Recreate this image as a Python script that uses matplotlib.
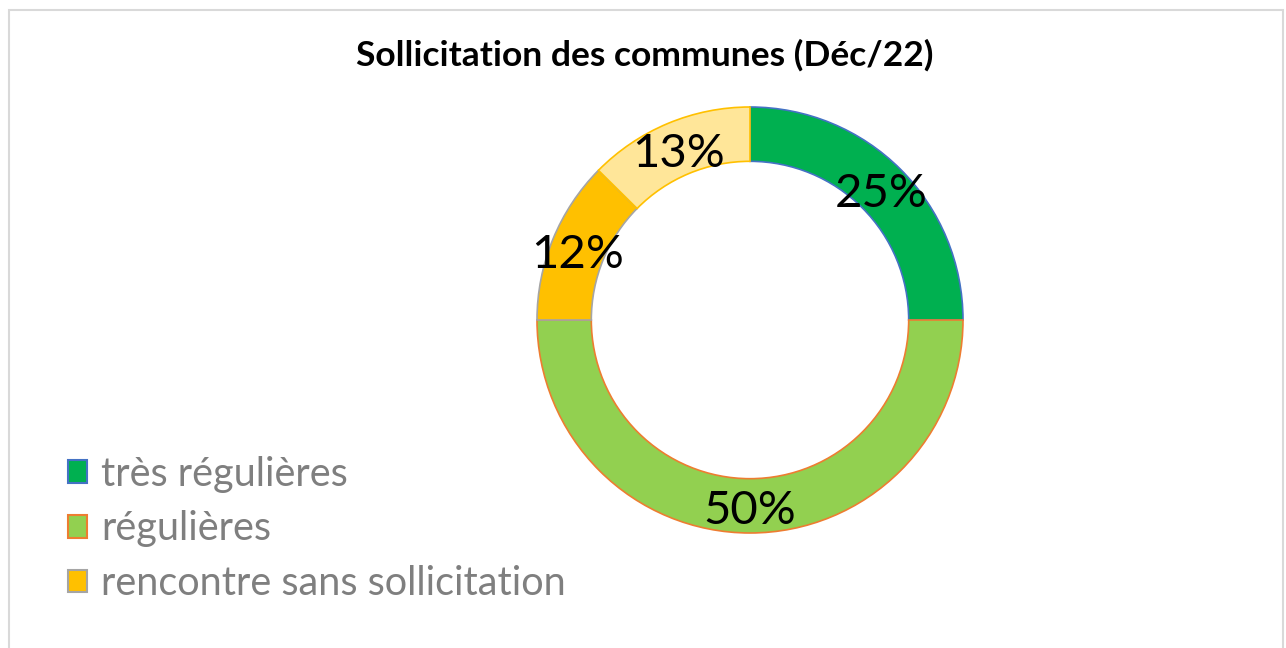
import matplotlib.pyplot as plt
from matplotlib.patches import Patch, Rectangle
import numpy as np

categories = ["très régulières", "régulières", "rencontre sans sollicitation", ""]
values = [25, 50, 12.4, 12.6]
fill_colors = ["#00B050", "#92D050", "#FFC000", "#FFE699"]
edge_colors = ["#4472C4", "#ED7D31", "#A5A5A5", "#FFC000"]
title = "Sollicitation des communes (Déc/22)"

plt.rcParams['font.family'] = ['Lato', 'DejaVu Sans']

W, H = 1286, 648
fig = plt.figure(figsize=(W / 100, H / 100), dpi=100)

# chart frame
fig.patches.append(Rectangle((9 / W, -0.05), 1274 / W, (H - 10) / H + 0.05,
                             transform=fig.transFigure, fill=False,
                             edgecolor="#D9D9D9", linewidth=1.5))

# donut axes, centre (750, 320) px, outer radius ~212 px
cx, cy, r = 750, 320, 213
ax = fig.add_axes([(cx - r) / W, (H - cy - r) / H, 2 * r / W, 2 * r / H])
wedges, _ = ax.pie(values, colors=fill_colors, startangle=90, counterclock=False,
                   radius=1, wedgeprops=dict(width=0.255, linewidth=1.2))
for w, ec in zip(wedges, edge_colors):
    w.set_edgecolor(ec)
    w.set_clip_on(False)
ax.set_xlim(-1, 1)
ax.set_ylim(-1, 1)
ax.set_aspect('auto')

# percentage labels at ring middle
total = sum(values)
ang = 90.0
for v in values:
    mid = ang - v / total * 360 / 2
    ang -= v / total * 360
    rr = 1 - 0.255 / 2
    ax.text(rr * np.cos(np.radians(mid)), rr * np.sin(np.radians(mid)) - 0.025,
            f"{round(v / total * 100)}%", ha='center', va='center',
            fontsize=34, color='black')

fig.text(645 / W, 1 - 55 / H, title, ha='center', va='center',
         fontsize=25.5, fontweight='bold', color='black')

handles = [Patch(facecolor=fc, edgecolor=ec, linewidth=1.5)
           for fc, ec in zip(fill_colors[:3], edge_colors[:3])]
leg = fig.legend(handles, categories[:3], loc='upper left',
                 bbox_to_anchor=(32 / W, 1 - 420 / H), frameon=False,
                 fontsize=28.5, handlelength=0.5, handleheight=0.5,
                 handletextpad=0.35, labelspacing=0.45)
for t in leg.get_texts():
    t.set_color("#7F7F7F")

fig.savefig("out.png", dpi=100)
